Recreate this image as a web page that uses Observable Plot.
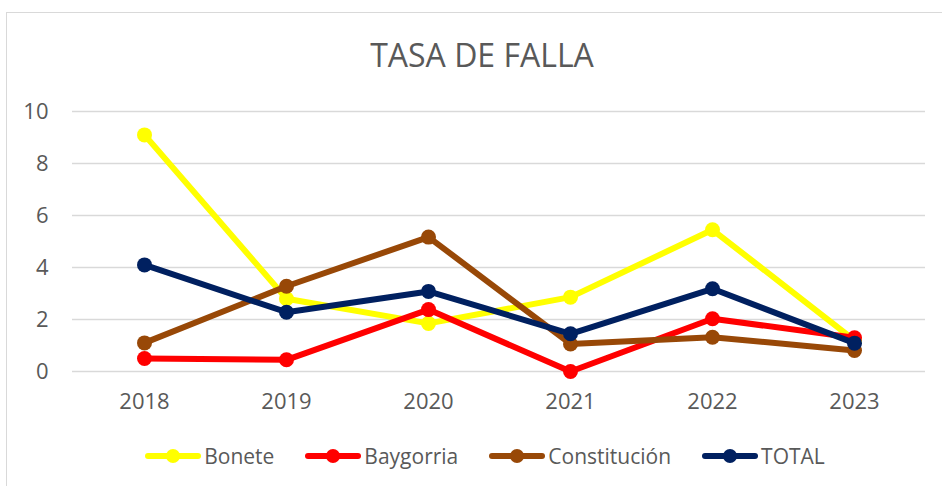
<!DOCTYPE html>
<html>
<head>
<meta charset="utf-8">
<script src="https://cdn.jsdelivr.net/npm/d3@7"></script>
<script src="https://cdn.jsdelivr.net/npm/@observablehq/plot@0.6"></script>
<style>
  html, body { margin: 0; padding: 0; background: #fff; }
  body { width: 942px; height: 486px; position: relative; overflow: hidden; font-family: "Open Sans", sans-serif; }
  #frame { position: absolute; left: 6px; top: 12px; width: 980px; height: 520px; border: 1px solid #d9d9d9; box-sizing: border-box; }
  #title { position: absolute; left: 0; top: 33px; width: 964px; text-align: center; font-size: 32px; font-weight: 400; color: #595959; }
  #chart { position: absolute; left: 0; top: 0; }
  #legend { position: absolute; left: 0; top: 442px; width: 970px; display: flex; justify-content: center; gap: 31px; font-size: 21px; color: #595959; }
  .item { display: flex; align-items: center; gap: 3px; }
</style>
</head>
<body>
<div id="frame"></div>
<div id="title">TASA DE FALLA</div>
<div id="chart"></div>
<div id="legend"></div>
<script>
const years = ["2018", "2019", "2020", "2021", "2022", "2023"];
const seriesNames = ["Bonete", "Baygorria", "Constitución", "TOTAL"];
const seriesColors = ["#FFFF00", "#FF0000", "#984807", "#002060"];
const bonete = [9.1, 2.8, 1.85, 2.86, 5.45, 1.2];
const baygorria = [0.5, 0.45, 2.38, 0.0, 2.03, 1.3];
const constitucion = [1.1, 3.28, 5.17, 1.06, 1.32, 0.81];
const total = [4.1, 2.28, 3.08, 1.45, 3.18, 1.09];
const yTicks = [0, 2, 4, 6, 8, 10];

const seriesValues = [bonete, baygorria, constitucion, total];
const marks = [Plot.ruleY(yTicks, {stroke: "#d9d9d9", strokeWidth: 1.5})];
seriesValues.forEach((vals, i) => {
  const data = years.map((yr, j) => ({year: yr, value: vals[j]}));
  marks.push(Plot.line(data, {x: "year", y: "value", stroke: seriesColors[i], strokeWidth: 6, strokeLinejoin: "round", strokeLinecap: "round"}));
  marks.push(Plot.dot(data, {x: "year", y: "value", r: 7.5, fill: seriesColors[i], stroke: "none"}));
});

const chart = Plot.plot({
  width: 942,
  height: 486,
  marginTop: 111,
  marginBottom: 115,
  marginLeft: 72,
  marginRight: 17,
  style: {fontSize: "22px", color: "#595959", fontFamily: "'Open Sans', sans-serif", background: "transparent"},
  x: {type: "point", domain: years, padding: 0.5, tickSize: 0, tickPadding: 22, label: null},
  y: {domain: [0, 10], ticks: yTicks, tickSize: 0, tickPadding: 24, label: null},
  marks
});
document.getElementById("chart").appendChild(chart);

const legend = document.getElementById("legend");
seriesNames.forEach((name, i) => {
  const item = document.createElement("div");
  item.className = "item";
  item.innerHTML = `<svg width="56" height="18"><line x1="3" y1="9" x2="53" y2="9" stroke="${seriesColors[i]}" stroke-width="6" stroke-linecap="round"/><circle cx="28" cy="9" r="7" fill="${seriesColors[i]}"/></svg><span>${name}</span>`;
  legend.appendChild(item);
});
</script>
</body>
</html>
